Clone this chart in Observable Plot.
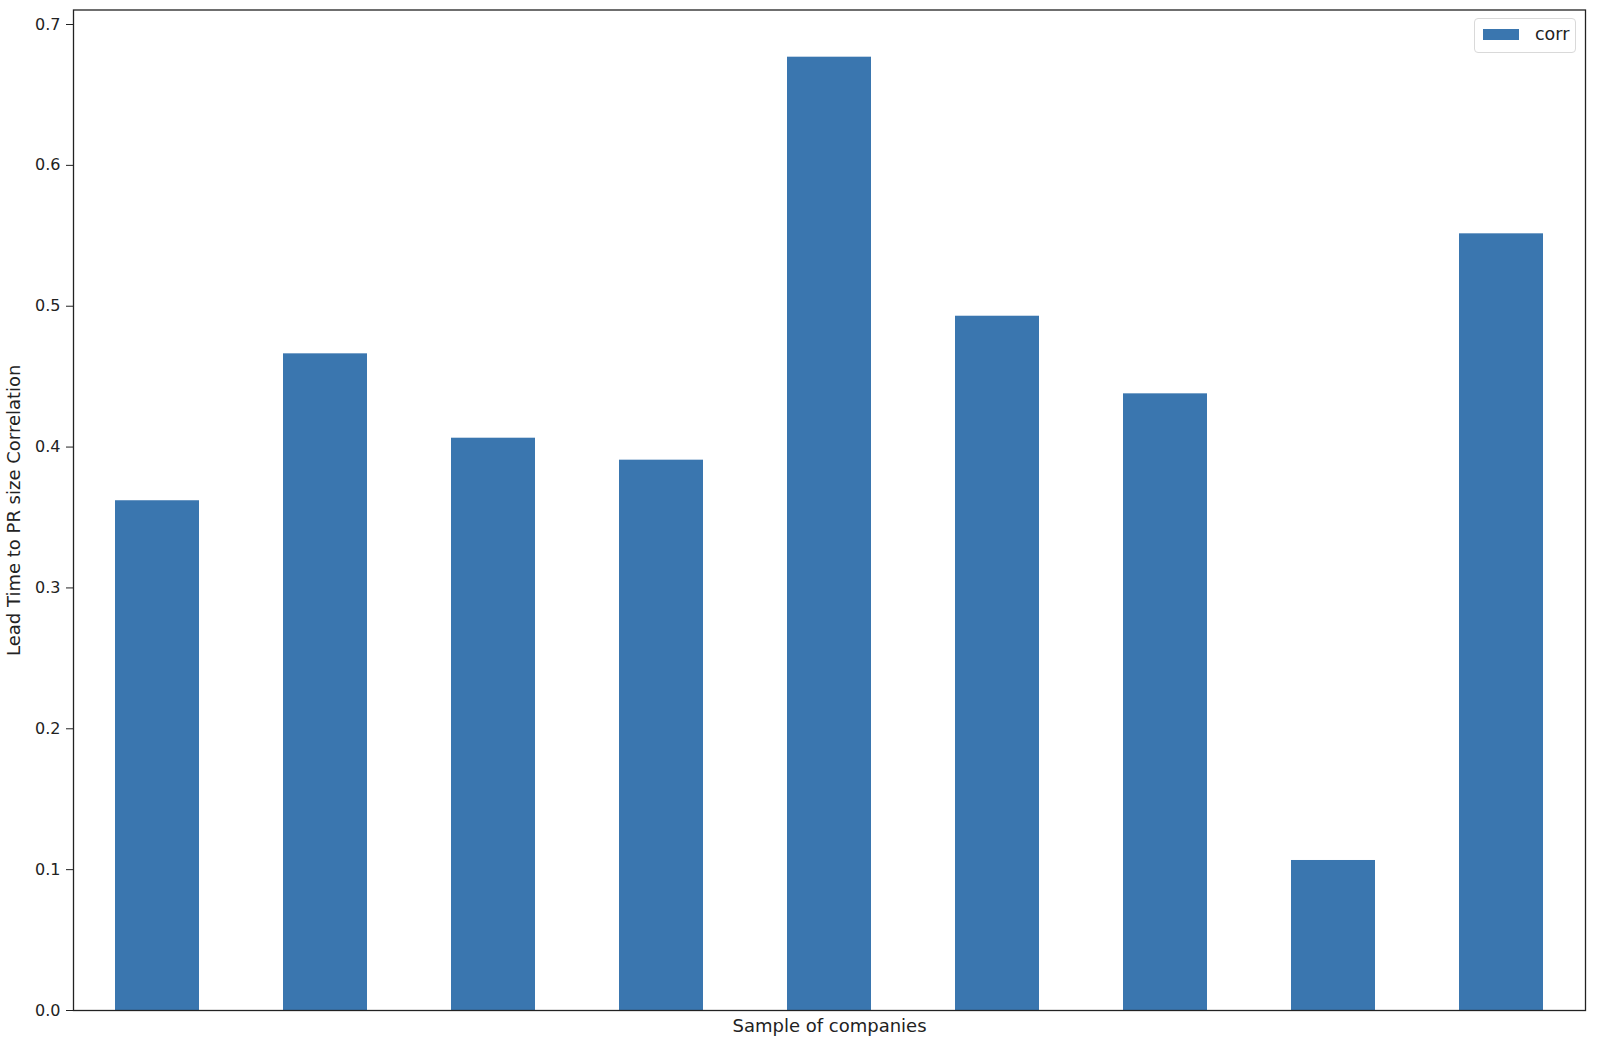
<!DOCTYPE html>
<html>
<head>
<meta charset="utf-8">
<script src="https://cdn.jsdelivr.net/npm/d3@7"></script>
<script src="https://cdn.jsdelivr.net/npm/@observablehq/plot@0.6"></script>
<style>
  html, body { margin: 0; padding: 0; background: #fff; }
  #wrap { position: relative; width: 1600px; height: 1042px; font-family: "DejaVu Sans", sans-serif; }
  #legend { position: absolute; left: 1474px; top: 18px; width: 102px; height: 35px;
    border: 1px solid #d9d9d9; border-radius: 4px; background: rgba(255,255,255,0.8); box-sizing: border-box; }
  #legend .sw { position: absolute; left: 8px; top: 10px; width: 36px; height: 11px; background: #3a76af; }
  #legend .lb { position: absolute; left: 60px; top: 5px; font-size: 17.5px; color: #222; }
</style>
</head>
<body>
<div id="wrap"></div>
<script>
const companies = ["1", "2", "3", "4", "5", "6", "7", "8", "9"];
const corr = [0.3619, 0.4662, 0.4063, 0.3907, 0.6768, 0.4929, 0.4378, 0.1065, 0.5514];
const yTicks = [0, 0.1, 0.2, 0.3, 0.4, 0.5, 0.6, 0.7];
const seriesName = "corr";
const xLabel = "Sample of companies";
const yLabel = "Lead Time to PR size Correlation";

const data = companies.map((c, i) => ({company: c, corr: corr[i]}));

const chart = Plot.plot({
  width: 1600,
  height: 1042,
  marginLeft: 73,
  marginRight: 15,
  marginTop: 9.5,
  marginBottom: 32,
  style: {fontFamily: "DejaVu Sans, sans-serif", fontSize: "16px", color: "#222", background: "#fff"},
  x: {type: "band", domain: companies, paddingInner: 0.5, paddingOuter: 0.25, axis: null},
  y: {domain: [0, 0.7103], ticks: yTicks, tickFormat: d3.format(".1f"), tickSize: 7, tickPadding: 6, label: null},
  marks: [
    Plot.barY(data, {x: "company", y: "corr", fill: "#3a76af", inset: 0}),
    Plot.frame({stroke: "#222", strokeWidth: 1.3}),
    Plot.text([yLabel], {frameAnchor: "left", dx: -59, rotate: -90, text: d => d, textAnchor: "middle", lineAnchor: "middle", fontSize: 18, fill: "#222"}),
    Plot.text([xLabel], {frameAnchor: "bottom", dy: 16, text: d => d, textAnchor: "middle", lineAnchor: "middle", fontSize: 18, fill: "#222"})
  ]
});
const wrap = document.getElementById("wrap");
wrap.appendChild(chart);
const lg = document.createElement("div");
lg.id = "legend";
lg.innerHTML = '<div class="sw"></div><div class="lb"></div>';
lg.querySelector(".lb").textContent = seriesName;
wrap.appendChild(lg);
</script>
</body>
</html>
